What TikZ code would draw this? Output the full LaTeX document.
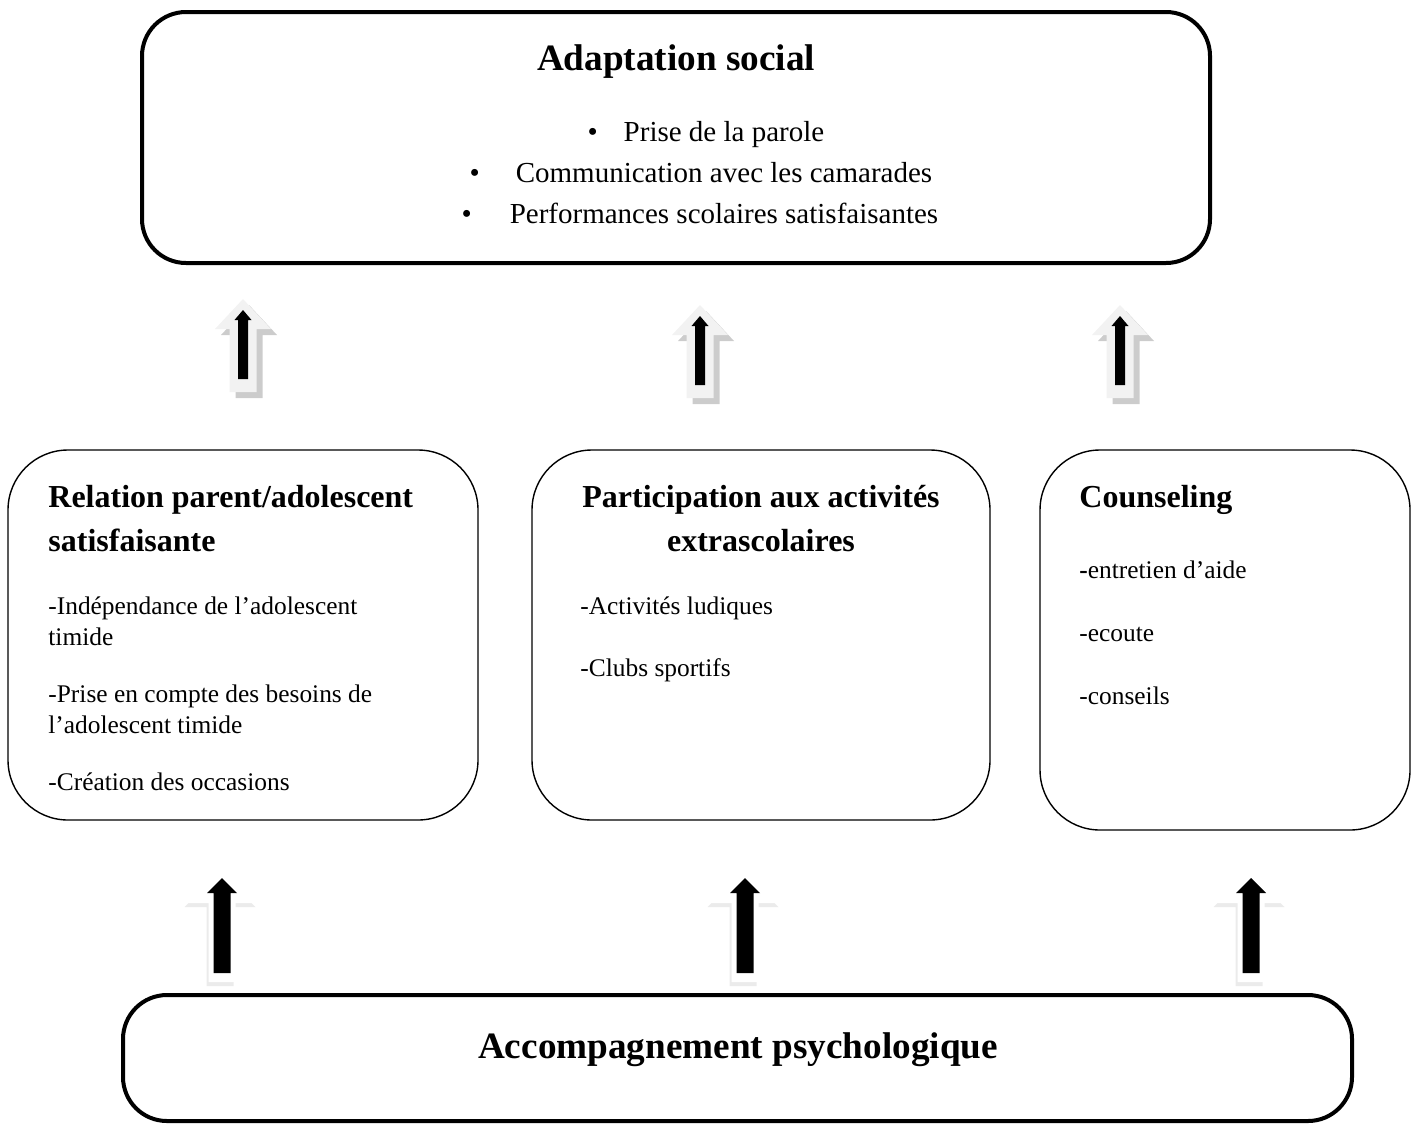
\documentclass[tikz,border=0pt]{standalone}
\usepackage{fontspec}
\setmainfont{Liberation Serif}
\begin{document}
\begin{tikzpicture}[
    x=0.5pt, y=-0.5pt,
    frame/.style={
        draw,
        line width=2pt,
        rounded corners=22pt
    },
    panel/.style={
        draw,
        line width=0.7pt,
        rounded corners=30pt
    },
    title/.style={
        font=\fontsize{18.6}{22}\selectfont\bfseries,
        inner sep=0pt
    },
    heading/.style={
        font=\fontsize{16}{19}\selectfont\bfseries,
        inner sep=0pt
    },
    bullet/.style={
        font=\fontsize{14.5}{17}\selectfont,
        anchor=base,
        inner sep=0pt
    },
    body/.style={
        font=\fontsize{12.7}{15}\selectfont,
        anchor=base west,
        inner sep=0pt
    },
    small lift/.pic={
        \fill[black!20] (6,6) -- (34,36) -- (19.5,36) -- (19.5,99) -- (-7.5,99) -- (-7.5,36) -- (-22,36) -- cycle;
        \fill[black!5] (0,0) -- (28,30) -- (13.5,30) -- (13.5,93) -- (-13.5,93) -- (-13.5,30) -- (-28,30) -- cycle;
        \fill[black] (0,11) -- (8.5,21) -- (5,21) -- (5,80) -- (-5,80) -- (-5,21) -- (-8.5,21) -- cycle;
    },
    big lift/.pic={
        \fill[black!8] (-2,4) -- (33.5,39) -- (11.5,39) -- (11.5,118) -- (-15.5,118) -- (-15.5,39) -- (-37.5,39) -- cycle;
        \fill[white] (0,0) -- (35.5,35) -- (13.5,35) -- (13.5,114) -- (-13.5,114) -- (-13.5,35) -- (-35.5,35) -- cycle;
        \fill[black] (0,10) -- (15,25) -- (8.5,25) -- (8.5,105) -- (-8.5,105) -- (-8.5,25) -- (-15,25) -- cycle;
    },
]
    \useasboundingbox (0,0) rectangle (1416,1125);

    % top box
    \draw[frame] (142,12) rectangle (1210,263);
    \node[title, anchor=base] (adapt) at (676,70) {Adaptation social};
    \node[bullet] (parole) at (724,141) {\llap{\textbullet\hspace{13pt}}Prise de la parole};
    \node[bullet] (comm) at (724,182) {\llap{\textbullet\hspace{18pt}}Communication avec les camarades};
    \node[bullet] (perf) at (724,223) {\llap{\textbullet\hspace{19pt}}Performances scolaires satisfaisantes};

    % arrows to the top box
    \pic at (243,299) {small lift};
    \pic at (700,305) {small lift};
    \pic at (1120,305) {small lift};

    % middle boxes
    \draw[panel] (8,450) rectangle (478,820);
    \node[heading, anchor=base west] (relation) at (48,507) {Relation parent/adolescent};
    \node[heading, anchor=base west] (satisf) at (48,551) {satisfaisante};
    \node[body] (indep) at (48,614) {-Indépendance de l’adolescent};
    \node[body] (indep2) at (48,645) {timide};
    \node[body] (besoins) at (48,702) {-Prise en compte des besoins de};
    \node[body] (besoins2) at (48,733) {l’adolescent timide};
    \node[body] (occas) at (48,790) {-Création des occasions};

    \draw[panel] (532,450) rectangle (990,820);
    \node[heading, anchor=base] (partic) at (761,507) {Participation aux activités};
    \node[heading, anchor=base] (extra) at (761,551) {extrascolaires};
    \node[body] (ludiques) at (580,614) {-Activités ludiques};
    \node[body] (clubs) at (580,676) {-Clubs sportifs};

    \draw[panel] (1040,450) rectangle (1410,830);
    \node[heading, anchor=base west] (couns) at (1079,507) {Counseling};
    \node[body] (entretien) at (1079,578) {\textbf{-}entretien d’aide};
    \node[body] (ecoute) at (1079,641) {-ecoute};
    \node[body] (conseils) at (1079,704) {-conseils};

    % arrows from the bottom box
    \pic at (222,868) {big lift};
    \pic at (745,868) {big lift};
    \pic at (1251,868) {big lift};

    % bottom box
    \draw[frame] (123,995) rectangle (1352,1121);
    \node[title, anchor=base] (accomp) at (738,1058) {Accompagnement psychologique};
\end{tikzpicture}
\end{document}
